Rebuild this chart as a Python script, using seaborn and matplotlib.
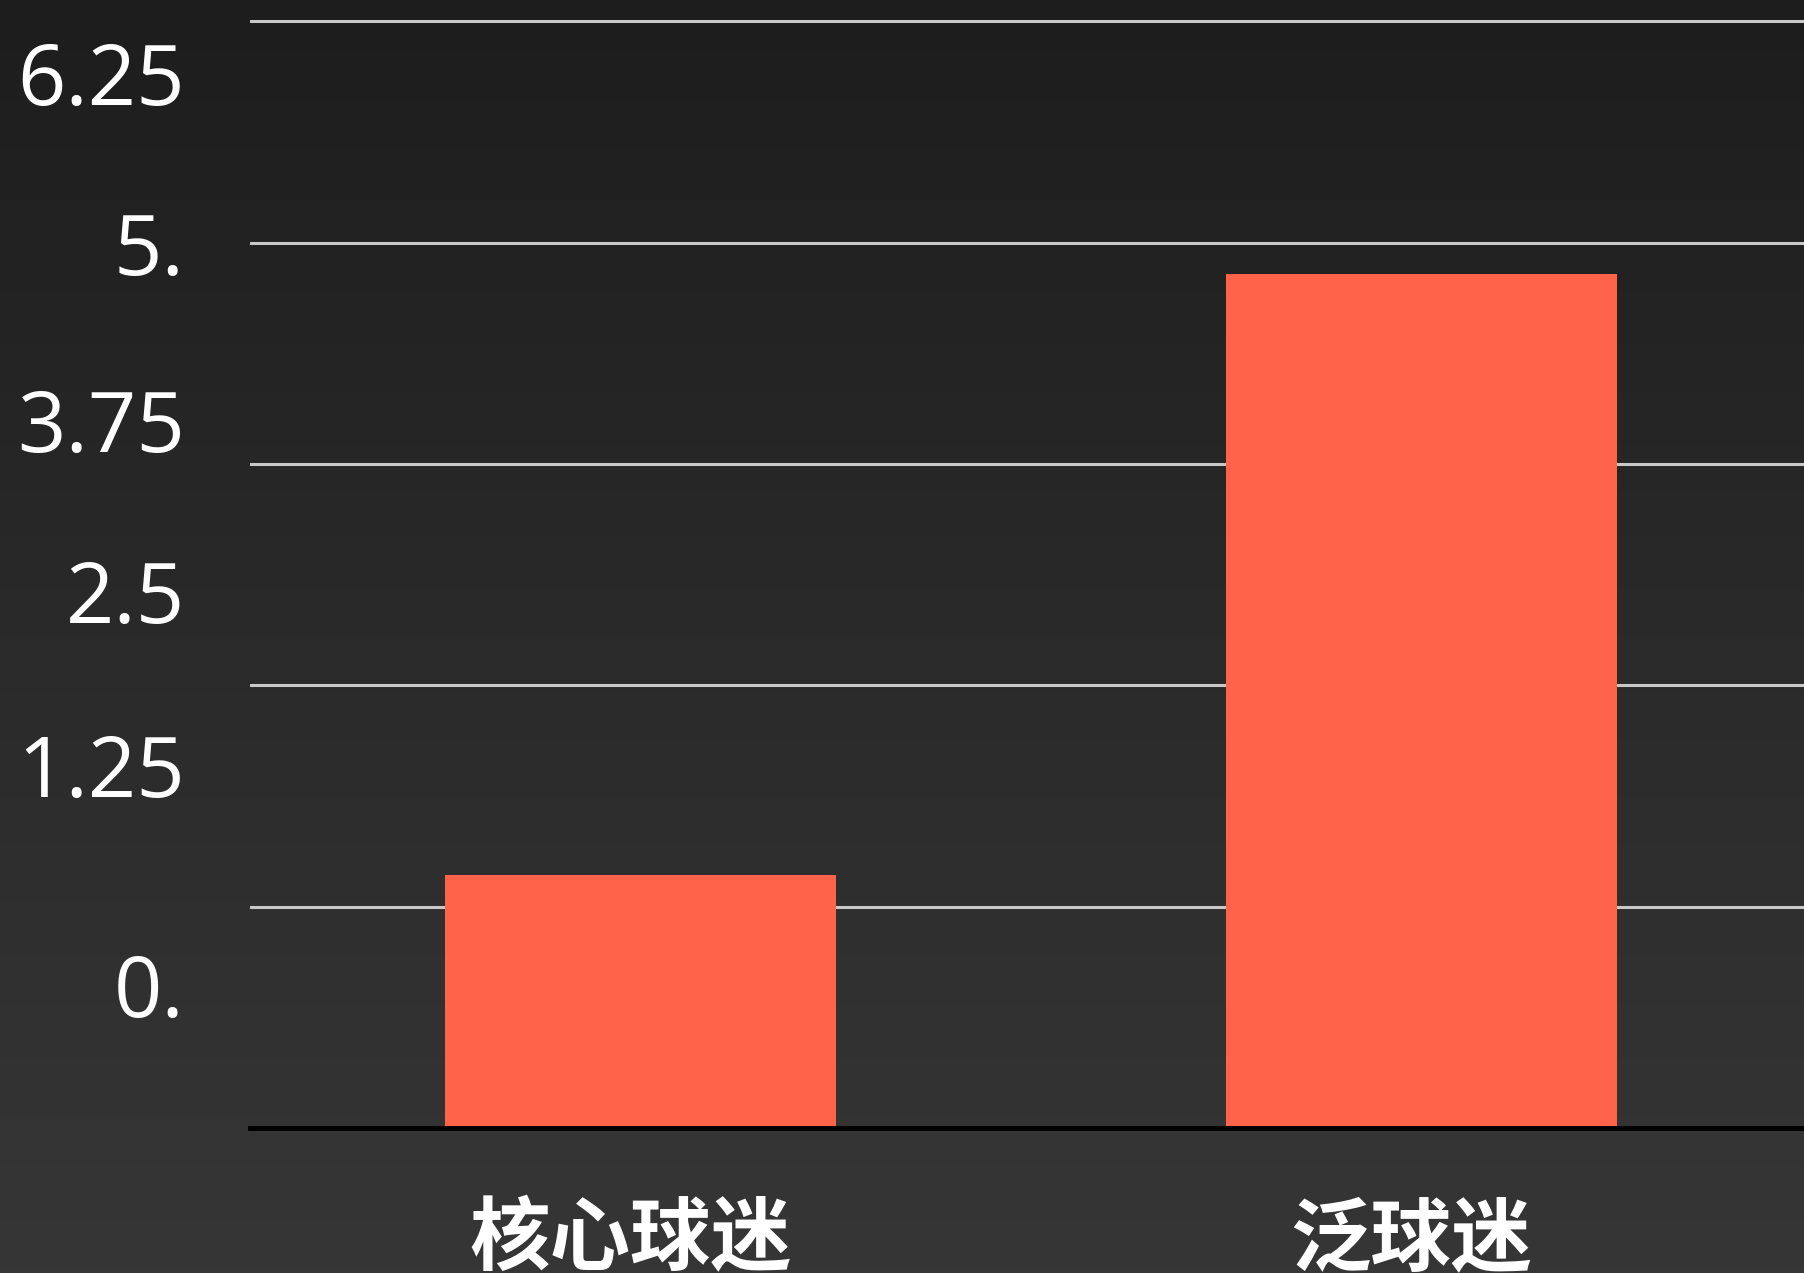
import numpy as np
import pandas as pd
import matplotlib
matplotlib.use('Agg')
import matplotlib.pyplot as plt
import matplotlib.transforms as mtransforms
from matplotlib.colors import LinearSegmentedColormap
import seaborn as sns

# data
categories = ['核心球迷', '泛球迷']
values = [1.43, 4.82]
grid_values = [0, 1.25, 2.5, 3.75, 5, 6.25]
# the y labels in the original do not sit on the gridlines
tick_labels = ['6.25', '5.', '3.75', '2.5', '1.25', '0.']
tick_label_y = [5.96, 5.0, 4.0, 3.03, 2.05, 0.81]

sns.set_style('dark')
plt.rcParams['font.family'] = ['Open Sans', 'Noto Sans CJK SC', 'DejaVu Sans']

df = pd.DataFrame({'group': categories, 'value': values})

fig = plt.figure(figsize=(18.04, 12.73), dpi=100)

# dark gradient background
bg = fig.add_axes([0, 0, 1, 1], zorder=-1)
cmap = LinearSegmentedColormap.from_list('bg', ['#1d1d1d', '#2a2a2a', '#363636'])
bg.imshow(np.linspace(0, 1, 256).reshape(-1, 1), cmap=cmap, aspect='auto')
bg.axis('off')

ax = fig.add_axes([250 / 1804, 145 / 1273, 1 - 250 / 1804, 1 - 145 / 1273])
ax.set_facecolor('none')

sns.barplot(data=df, x='group', y='value', color='#FF634A', width=0.5,
            saturation=1, linewidth=0, ax=ax, zorder=3)

ax.set_xlim(-0.5, 1.49)
ax.set_ylim(0, 6.37)

# gridlines on major ticks, labels on minor ticks
ax.yaxis.remove_overlapping_locs = False
ax.set_yticks(grid_values)
ax.tick_params(axis='y', which='major', length=0, labelleft=False)
ax.yaxis.grid(True, which='major', color='#c8c8c8', linewidth=2.2, zorder=1)
ax.xaxis.grid(False)
ax.set_yticks(tick_label_y, tick_labels, minor=True)
ax.tick_params(axis='y', which='minor', length=0, labelsize=61,
               labelcolor='white', pad=47)
for lbl in ax.get_yticklabels(minor=True):
    lbl.set_horizontalalignment('right')

ax.tick_params(axis='x', length=0, pad=52)
shift = mtransforms.ScaledTranslation(-0.1, 0, fig.dpi_scale_trans)
for lbl in ax.get_xticklabels():
    lbl.set_family(['Noto Sans CJK SC', 'DejaVu Sans'])
    lbl.set_fontsize(58)
    lbl.set_fontweight('heavy')
    lbl.set_color('white')
    lbl.set_transform(lbl.get_transform() + shift)

for side in ['top', 'right', 'left']:
    ax.spines[side].set_visible(False)
ax.spines['bottom'].set_color('black')
ax.spines['bottom'].set_linewidth(3.5)
ax.spines['bottom'].set_zorder(4)

ax.set_xlabel('')
ax.set_ylabel('')

fig.savefig('out.png', dpi=100, facecolor='#262626')
